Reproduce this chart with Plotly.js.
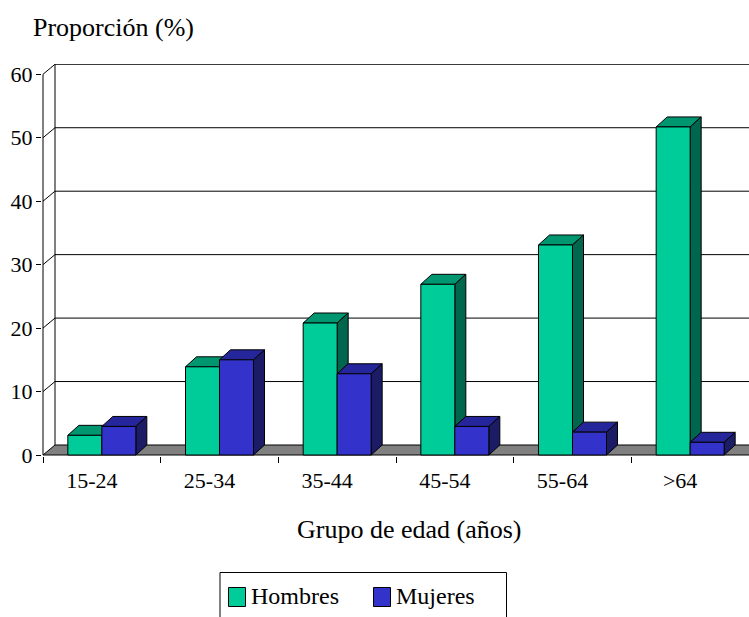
<!DOCTYPE html>
<html>
<head>
<meta charset="utf-8">
<script src="https://cdn.plot.ly/plotly-3.0.1.min.js"></script>
<style>
  html, body { margin: 0; padding: 0; background: #fff; overflow: hidden; }
  #chart { width: 749px; height: 617px; }
</style>
</head>
<body>
<div id="chart"></div>
<script>
// Age groups and share (%) per sex
const grupos  = ['15-24', '25-34', '35-44', '45-54', '55-64', '>64'];
const hombres = [3.1, 13.9, 20.8, 26.9, 33.1, 51.7];
const mujeres = [4.5, 15.0, 12.8, 4.5, 3.6, 2.0];
const yTicks  = [0, 10, 20, 30, 40, 50, 60];
const series  = ['Hombres', 'Mujeres'];

// colours: front / top / side faces
const verde = { front: '#00CC99', top: '#00966F', side: '#00664D' };
const azul  = { front: '#3333CC', top: '#26269C', side: '#1B1B66' };

// page geometry in px
const W = 749, H = 617;
const M = { l: 42, r: 0, t: 64, b: 161 };
const plotW = W - M.l - M.r, plotH = H - M.t - M.b;
const xRange = [-0.5085, 5.5];
const yRange = [-0.158, 61.62];
const pxX = plotW / (xRange[1] - xRange[0]);
const pxY = plotH / (yRange[1] - yRange[0]);

// oblique depth of the 3-D box (px -> data units)
const bdx = 11 / pxX, bdy = 10 / pxY;   // bars
const wdx = 12 / pxX, wdy = 10 / pxY;   // walls / floor
const barW = 0.289;                       // one bar, category units
const FAR = 7;                            // lines run past the right edge

const px2x = p => (p - M.l) / plotW;
const px2y = p => (H - M.b - p) / plotH;

const path = pts => 'M ' + pts.map(p => p[0].toFixed(4) + ',' + p[1].toFixed(4)).join(' L ') + ' Z';
const line = pts => 'M ' + pts.map(p => p[0].toFixed(4) + ',' + p[1].toFixed(4)).join(' L ');

const shapes = [];
const edge = { color: '#000', width: 1 };

// floor
const x0 = -0.5;
shapes.push({
  type: 'path', xref: 'x', yref: 'y', layer: 'below',
  path: path([[x0, 0], [FAR, 0], [FAR + wdx, wdy], [x0 + wdx, wdy]]),
  fillcolor: '#808080', line: edge
});
// back-wall gridlines with their left-wall diagonals
yTicks.forEach(v => {
  if (v === 0) return;
  shapes.push({
    type: 'path', xref: 'x', yref: 'y', layer: 'below',
    path: line([[x0, v], [x0 + wdx, v + wdy], [FAR, v + wdy]]),
    line: edge
  });
});
// left-wall edges
shapes.push({ type: 'line', xref: 'x', yref: 'y', layer: 'below',
  x0: x0 + wdx, y0: wdy, x1: x0 + wdx, y1: 60 + wdy, line: edge });
shapes.push({ type: 'line', xref: 'x', yref: 'y', layer: 'below',
  x0: x0, y0: 0, x1: x0, y1: 60, line: edge });

// top and side faces of the columns (front faces are the bar traces)
grupos.forEach((g, i) => {
  const h = hombres[i], m = mujeres[i];
  const a = i - barW, b = i, c = i + barW;
  shapes.push({ type: 'path', xref: 'x', yref: 'y', layer: 'below',
    path: path([[a, h], [b, h], [b + bdx, h + bdy], [a + bdx, h + bdy]]),
    fillcolor: verde.top, line: edge });
  if (h > m) {
    shapes.push({ type: 'path', xref: 'x', yref: 'y', layer: 'below',
      path: path([[b, m], [b, h], [b + bdx, h + bdy], [b + bdx, m + bdy]]),
      fillcolor: verde.side, line: edge });
  }
  shapes.push({ type: 'path', xref: 'x', yref: 'y', layer: 'below',
    path: path([[b, m], [c, m], [c + bdx, m + bdy], [b + bdx, m + bdy]]),
    fillcolor: azul.top, line: edge });
  shapes.push({ type: 'path', xref: 'x', yref: 'y', layer: 'below',
    path: path([[c, 0], [c, m], [c + bdx, m + bdy], [c + bdx, bdy]]),
    fillcolor: azul.side, line: edge });
});

// legend box
const serif = 'Liberation Serif, Times New Roman, serif';
shapes.push({ type: 'rect', xref: 'paper', yref: 'paper', layer: 'above',
  x0: px2x(220), x1: px2x(506.5), y0: px2y(572.5), y1: px2y(660),
  fillcolor: 'rgba(0,0,0,0)', line: edge });
const legendItems = [
  { name: series[0], color: verde.front, sq: 228.5, tx: 251 },
  { name: series[1], color: azul.front,  sq: 373.5, tx: 396 }
];
legendItems.forEach(it => {
  shapes.push({ type: 'rect', xref: 'paper', yref: 'paper', layer: 'above',
    x0: px2x(it.sq), x1: px2x(it.sq + 17), y0: px2y(587.5), y1: px2y(606.5),
    fillcolor: it.color, line: edge });
});

const annotations = [
  { text: 'Proporción (%)', x: px2x(33), y: px2y(36 - 0.3375 * 26),
    xanchor: 'left', yanchor: 'middle', font: { size: 26 } },
  { text: 'Grupo de edad (años)', x: px2x(409.5), y: px2y(538 - 0.3375 * 26),
    xanchor: 'center', yanchor: 'middle', font: { size: 26 } }
].concat(legendItems.map(it => ({
  text: it.name, x: px2x(it.tx), y: px2y(604 - 0.3375 * 24),
  xanchor: 'left', yanchor: 'middle', font: { size: 24 }
}))).map(a => Object.assign({
  xref: 'paper', yref: 'paper', showarrow: false, borderpad: 0, borderwidth: 0
}, a));

const traces = [
  { type: 'bar', name: series[0], x: grupos, y: hombres,
    marker: { color: verde.front, line: edge }, hoverinfo: 'skip' },
  { type: 'bar', name: series[1], x: grupos, y: mujeres,
    marker: { color: azul.front, line: edge }, hoverinfo: 'skip' }
];

const layout = {
  width: W, height: H,
  margin: Object.assign({ autoexpand: false, pad: 0 }, M),
  paper_bgcolor: '#fff', plot_bgcolor: '#fff',
  font: { family: serif, color: '#000' },
  showlegend: false,
  barmode: 'group', bargap: 0.422, bargroupgap: 0,
  xaxis: {
    type: 'category', categoryorder: 'array', categoryarray: grupos,
    range: xRange, fixedrange: true,
    tickson: 'boundaries', ticks: 'outside', ticklen: 6, tickcolor: '#000', tickwidth: 1,
    showgrid: false, zeroline: false, showline: false,
    tickfont: { size: 22, family: serif }, ticklabelstandoff: 9, ticklabelshift: -10
  },
  yaxis: {
    range: yRange, fixedrange: true,
    tickmode: 'array', tickvals: yTicks,
    ticks: 'outside', ticklen: 5, tickcolor: '#000', tickwidth: 1,
    showgrid: false, zeroline: false, showline: false,
    tickfont: { size: 22, family: serif }, ticklabelstandoff: -1
  },
  shapes: shapes,
  annotations: annotations
};

Plotly.newPlot('chart', traces, layout, { displayModeBar: false, staticPlot: true });
</script>
</body>
</html>
